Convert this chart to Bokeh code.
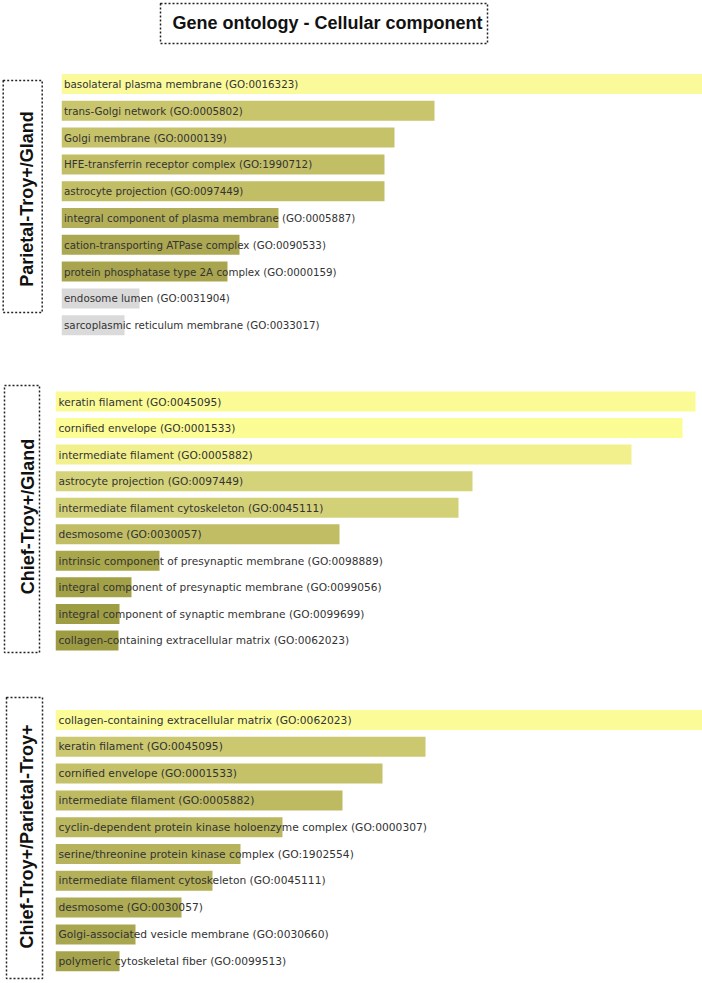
import math
from bokeh.plotting import figure
from bokeh.layouts import column, row
from bokeh.models import ColumnDataSource, Range1d
from bokeh.core.properties import value
from bokeh.embed import file_html
from bokeh.resources import INLINE

TITLE = "Gene ontology - Cellular component"

panel_names = ["Parietal-Troy+/Gland", "Chief-Troy+/Gland", "Chief-Troy+/Parietal-Troy+"]

p1_terms = [
    "basolateral plasma membrane (GO:0016323)",
    "trans-Golgi network (GO:0005802)",
    "Golgi membrane (GO:0000139)",
    "HFE-transferrin receptor complex (GO:1990712)",
    "astrocyte projection (GO:0097449)",
    "integral component of plasma membrane (GO:0005887)",
    "cation-transporting ATPase complex (GO:0090533)",
    "protein phosphatase type 2A complex (GO:0000159)",
    "endosome lumen (GO:0031904)",
    "sarcoplasmic reticulum membrane (GO:0033017)",
]
p1_scores = [641, 373, 333, 323, 323, 217, 178, 166, 78, 63]
p1_colors = ["#fafa9a", "#c9c56d", "#c6c26a", "#c2be66", "#c2be66",
             "#b3af58", "#aca852", "#a9a54f", "#d9d9d9", "#dadada"]

p2_terms = [
    "keratin filament (GO:0045095)",
    "cornified envelope (GO:0001533)",
    "intermediate filament (GO:0005882)",
    "astrocyte projection (GO:0097449)",
    "intermediate filament cytoskeleton (GO:0045111)",
    "desmosome (GO:0030057)",
    "intrinsic component of presynaptic membrane (GO:0098889)",
    "integral component of presynaptic membrane (GO:0099056)",
    "integral component of synaptic membrane (GO:0099699)",
    "collagen-containing extracellular matrix (GO:0062023)",
]
p2_scores = [640, 627, 576, 417, 403, 284, 104, 76, 64, 63]
p2_colors = ["#fbfb96", "#fcfc94", "#f1f08c", "#d5d37a", "#d3d178",
             "#c0bd65", "#a9a74c", "#a3a147", "#9f9d44", "#9e9c43"]

p3_terms = [
    "collagen-containing extracellular matrix (GO:0062023)",
    "keratin filament (GO:0045095)",
    "cornified envelope (GO:0001533)",
    "intermediate filament (GO:0005882)",
    "cyclin-dependent protein kinase holoenzyme complex (GO:0000307)",
    "serine/threonine protein kinase complex (GO:1902554)",
    "intermediate filament cytoskeleton (GO:0045111)",
    "desmosome (GO:0030057)",
    "Golgi-associated vesicle membrane (GO:0030660)",
    "polymeric cytoskeletal fiber (GO:0099513)",
]
p3_scores = [647, 370, 327, 287, 227, 185, 157, 126, 80, 64]
p3_colors = ["#fbfb98", "#cbc86f", "#c4c168", "#bdba62", "#bab75f",
             "#b6b35c", "#b3b059", "#aeab55", "#a9a650", "#a6a34d"]

BOLD_FONT = "Liberation Sans"
BAR_FONT = "DejaVu Sans"


def bare(p):
    p.grid.visible = False
    p.outline_line_color = None
    p.min_border = 0
    p.background_fill_color = "white"
    p.border_fill_color = "white"
    return p


def make_fig(w, h, xr, yr):
    p = figure(width=w, height=h, x_range=xr, y_range=yr, toolbar_location=None,
               output_backend="svg", x_axis_location=None, y_axis_location=None)
    return bare(p)


# title
tf = make_fig(702, 60, Range1d(0, 702), Range1d(60, 0))
tf.quad(left=[160], right=[487], top=[3], bottom=[43], fill_color=None,
        line_color="#222222", line_width=1.5, line_dash="2 2")
tf.text(x=[327], y=[22], text=[TITLE], text_align="center", text_baseline="middle",
        text_font=value(BOLD_FONT), text_font_style="bold", text_font_size="18px",
        text_color="#111111")


def panel(name, terms, scores, colors, H, a, s, lw, box, tx, ty, xmax, fsize, xoff):
    # label column
    lf = make_fig(lw, H, Range1d(0, lw), Range1d(H, 0))
    lf.quad(left=[box[0]], right=[box[1]], top=[box[2]], bottom=[box[3]],
            fill_color=None, line_color="#222222", line_width=1.5, line_dash="2 2")
    lf.text(x=[tx], y=[ty], text=[name], angle=math.pi / 2, text_align="center",
            text_baseline="middle", text_font=value(BOLD_FONT), text_font_style="bold",
            text_font_size="18px", text_color="#111111")
    # bars
    n = len(terms)
    src = ColumnDataSource(dict(y=list(range(n)), score=scores, term=terms, color=colors))
    bf = make_fig(702 - lw, H, Range1d(0, xmax), Range1d((H - a) / s, -a / s))
    bf.hbar(y="y", left=0, right="score", height=20.0 / s, fill_color="color",
            line_color=None, source=src)
    bf.text(x=0, y="y", text="term", x_offset=xoff, text_baseline="middle",
            text_font=value(BAR_FONT), text_font_size=fsize, text_color="#333333",
            source=src)
    return row(lf, bf, spacing=0)


r1 = panel(panel_names[0], p1_terms, p1_scores, p1_colors, 305, 23.5, 26.8, 61,
           (2.7, 41.7, 20, 252), 26, 138.5, 641, "10.3px", 2.5)
r2 = panel(panel_names[1], p2_terms, p2_scores, p2_colors, 315, 36, 26.55, 55,
           (4, 39, 20, 287), 27, 151, 647, "10.6px", 3)
r3 = panel(panel_names[2], p3_terms, p3_scores, p3_colors, 303, 39.5, 26.8, 55,
           (6, 42, 17, 298), 26, 156, 647, "10.7px", 3)

layout = column(tf, r1, r2, r3, spacing=0)

open("out.html", "w").write(file_html(layout, INLINE))
